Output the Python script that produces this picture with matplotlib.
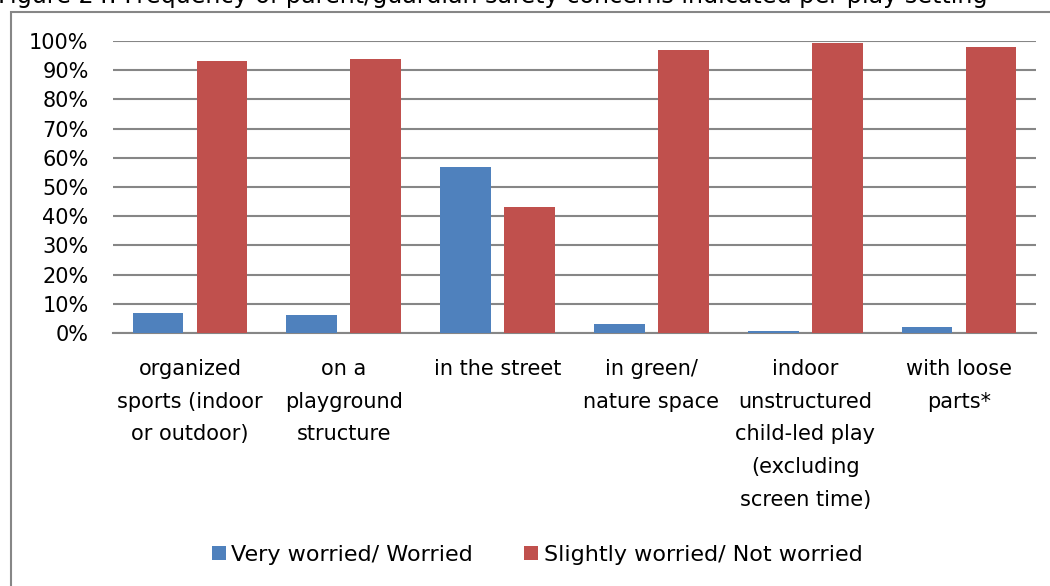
import numpy as np
import matplotlib.pyplot as plt
from matplotlib.patches import Rectangle
from matplotlib.ticker import FuncFormatter

categories = ["organized\nsports (indoor\nor outdoor)", "on a\nplayground\nstructure",
              "in the street", "in green/\nnature space",
              "indoor\nunstructured\nchild-led play\n(excluding\nscreen time)", "with loose\nparts*"]
worried = [7, 6.2, 57, 3.1, 0.6, 2]
not_worried = [93, 94, 43, 97, 99.4, 98]
series_names = ["Very worried/ Worried", "Slightly worried/ Not worried"]

plt.rcParams['font.family'] = ['DejaVu Sans']

fig = plt.figure(figsize=(10.5, 5.86), dpi=100)
ax = fig.add_axes([0.1076, 0.4317, 0.8791, 0.4983])

x = np.arange(len(categories))
w = 0.33
ax.bar(x - 0.208, worried, w, color='#4F81BD', label=series_names[0], zorder=3)
ax.bar(x + 0.208, not_worried, w, color='#C0504D', label=series_names[1], zorder=3)

ax.set_xlim(-0.5, len(categories) - 0.5)
ax.set_ylim(0, 100)
ax.set_yticks(np.arange(0, 101, 10))
ax.yaxis.set_major_formatter(FuncFormatter(lambda v, p: f'{v:.0f}%'))
ax.grid(axis='y', color='#868686', linewidth=1.5, zorder=0)
ax.set_xticks(x)
ax.set_xticklabels(categories, linespacing=1.8)
ax.tick_params(axis='y', length=0, pad=17.5, labelsize=15)
ax.tick_params(axis='x', length=0, pad=18.5, labelsize=15)
for s in ['left', 'right', 'top']:
    ax.spines[s].set_visible(False)
ax.spines['bottom'].set_color('#868686')
ax.spines['bottom'].set_linewidth(1.5)

fig.legend(loc='center', bbox_to_anchor=(0.5114, 1 - 555 / 586), ncol=2, frameon=False,
           fontsize=16, handlelength=0.63, handleheight=0.63, handletextpad=0.25, columnspacing=2.3)

fig.patches.append(Rectangle((11 / 1050, -0.1), 1.2, 1.1 - 12 / 586, transform=fig.transFigure,
                             fill=False, edgecolor='#868686', linewidth=1.5))
fig.text(-0.002, 1 - 3.5 / 586, "Figure 24: Frequency of parent/guardian safety concerns indicated per play setting",
         fontsize=17.2, ha='left', va='baseline')

fig.savefig('out.png', dpi=100)
